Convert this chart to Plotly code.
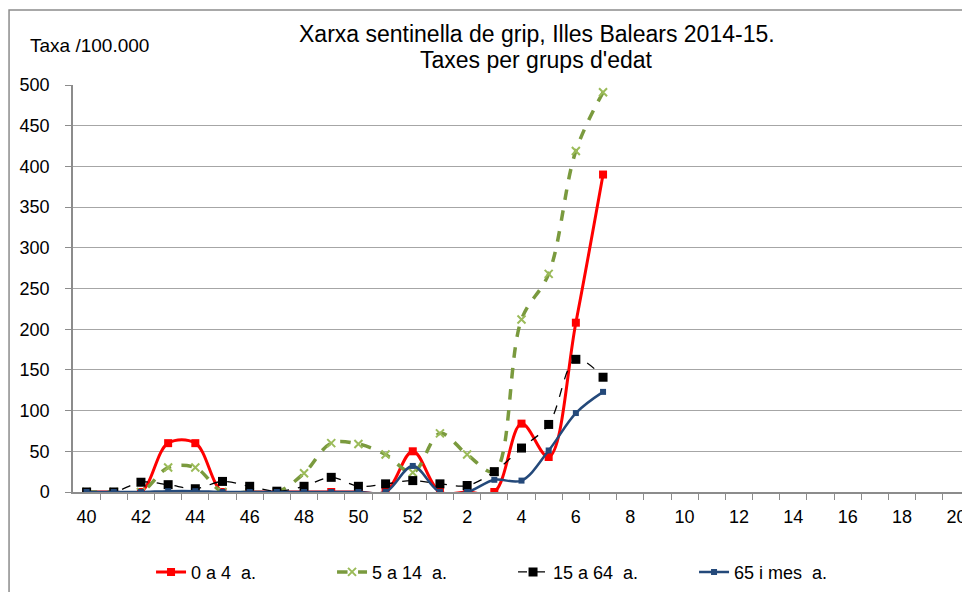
import plotly.graph_objects as go

weeks = [40, 41, 42, 43, 44, 45, 46, 47, 48, 49, 50, 51, 52,
         1, 2, 3, 4, 5, 6, 7, 8, 9, 10, 11, 12, 13, 14, 15, 16, 17, 18, 19, 20]

edat_0_4 = [0, 0, 0, 60, 60, 0, 0, 0, 0, 0, 0, 0, 50, 0, 0, 0, 84, 43, 208, 390]
edat_5_14 = [0, 0, 0, 30, 30, 0, 0, 0, 23, 60, 59, 46, 24, 72, 46, 25, 212, 268, 419, 491]
edat_15_64 = [0, 0, 12, 9, 4, 13, 7, 1, 7, 18, 7, 10, 14, 10, 8, 25, 54, 83, 163, 141]
edat_65 = [0, 0, 0, 1, 1, 0, 0, 0, 0, 0, 0, 0, 32, 0, 0, 15, 14, 51, 97, 123]

pos = list(range(len(weeks)))
label_pos = [i for i, w in enumerate(weeks) if w % 2 == 0]
label_txt = [str(weeks[i]) for i in label_pos]

fig = go.Figure()
fig.add_trace(go.Scatter(x=pos[:len(edat_0_4)], y=edat_0_4, name="0 a 4  a.",
                         mode="lines+markers", line=dict(color="#FF0000", width=3, shape="spline"),
                         marker=dict(symbol="square", size=8, color="#FF0000")))
fig.add_trace(go.Scatter(x=pos[:len(edat_5_14)], y=edat_5_14, name="5 a 14  a.",
                         mode="lines+markers", line=dict(color="#7A9A3E", width=3.5, dash="dash", shape="spline"),
                         marker=dict(symbol="x-thin", size=8, line=dict(color="#9BBB59", width=2))))
fig.add_trace(go.Scatter(x=pos[:len(edat_15_64)], y=edat_15_64, name="15 a 64  a.",
                         mode="lines+markers", line=dict(color="#000000", width=1.3, dash="dash", shape="spline"),
                         marker=dict(symbol="square", size=9, color="#000000")))
fig.add_trace(go.Scatter(x=pos[:len(edat_65)], y=edat_65, name="65 i mes  a.",
                         mode="lines+markers", line=dict(color="#24497A", width=2.5, shape="spline"),
                         marker=dict(symbol="square", size=6, color="#24497A")))

# marc exterior del grafic (la pagina te 8px de marge)
fig.add_shape(type="rect", xref="paper", yref="paper", x0=-0.0713, x1=1.05, y0=-0.3, y1=1.184,
              line=dict(color="#8C8C8C", width=1.5), layer="below")

fig.add_annotation(text="Xarxa sentinella de grip, Illes Balears 2014-15.",
                   xref="paper", yref="paper", x=0.517, y=1.126, xanchor="center", yanchor="middle",
                   showarrow=False, font=dict(size=23, color="#000000"))
fig.add_annotation(text="Taxes per grups d'edat",
                   xref="paper", yref="paper", x=0.517, y=1.062, xanchor="center", yanchor="middle",
                   showarrow=False, font=dict(size=23, color="#000000"))
fig.add_annotation(text="Taxa /100.000", xref="paper", yref="paper", x=-0.05, y=1.098,
                   xanchor="left", yanchor="middle", showarrow=False,
                   font=dict(size=19, color="#000000"))

fig.update_layout(
    width=962, height=584,
    margin=dict(l=65, r=0, t=77, b=100),
    paper_bgcolor="white", plot_bgcolor="white",
    font=dict(family="Liberation Sans, Arial, sans-serif", color="#000000"),
    showlegend=True,
    legend=dict(orientation="h", x=0.087, y=-0.197, xanchor="left", yanchor="middle",
                font=dict(size=18), entrywidth=136, tracegroupgap=0),
)
fig.update_xaxes(range=[-0.5, len(weeks) - 0.5], tickmode="array", tickvals=label_pos,
                 ticktext=label_txt, showgrid=False, zeroline=False, showline=True,
                 linecolor="#8C8C8C", linewidth=1.5, ticks="", tickfont=dict(size=18),
                 ticklabelstandoff=8, automargin=False,
                 minor=dict(tickvals=[p + 0.5 for p in pos], ticks="outside", ticklen=6,
                            tickcolor="#8C8C8C", showgrid=False))
fig.update_yaxes(range=[0, 500], dtick=50, showgrid=True, gridcolor="#A6A6A6", gridwidth=1,
                 zeroline=False, showline=True, linecolor="#8C8C8C", linewidth=1.5,
                 ticks="outside", ticklen=6, tickcolor="#8C8C8C", tickfont=dict(size=18),
                 ticklabelstandoff=12, automargin=False)

fig.write_html("out.html")
